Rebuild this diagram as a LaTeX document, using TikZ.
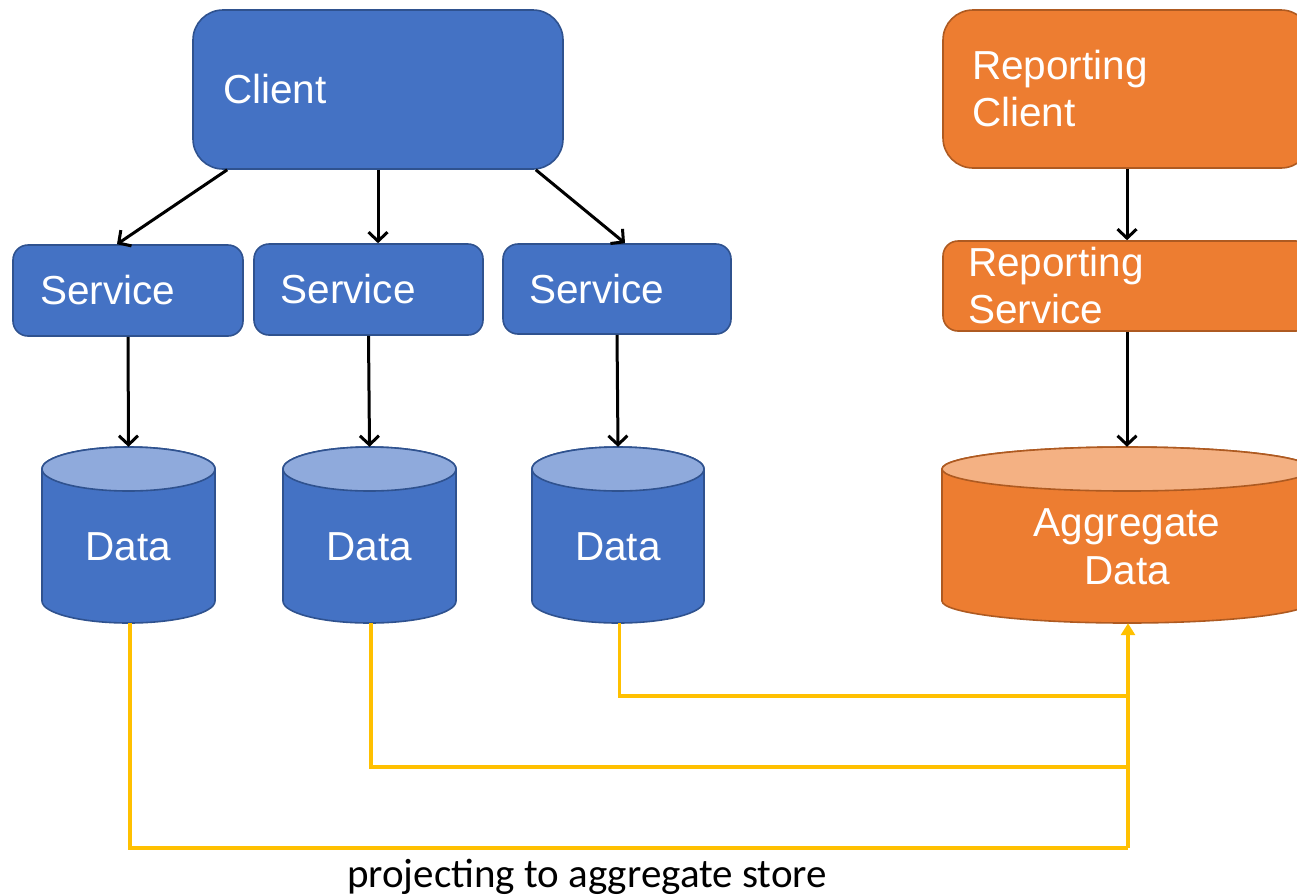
\documentclass[tikz,border=0pt]{standalone}
\usepackage{fontspec}
\setmainfont{Liberation Sans}
\newfontfamily\calib{Carlito}
\usetikzlibrary{arrows.meta,calc}
\definecolor{blueF}{HTML}{4472C4}
\definecolor{blueT}{HTML}{8FAADC}
\definecolor{blueE}{HTML}{2F528F}
\definecolor{orF}{HTML}{ED7D31}
\definecolor{orT}{HTML}{F4B183}
\definecolor{orE}{HTML}{AE5A21}
\definecolor{yel}{HTML}{FFC000}
\begin{document}
\begin{tikzpicture}[x=1pt,y=1pt,
  boxbase/.style={line width=1.6pt, text=white, font=\fontsize{40.5}{47}\selectfont, align=left, inner sep=0pt},
  bluebox/.style={boxbase, draw=blueE, fill=blueF},
  orbox/.style={boxbase, draw=orE, fill=orF},
  bigbox/.style={rounded corners=30pt, minimum height=159, minimum width=370, text width=310},
  svcbox/.style={rounded corners=15pt, minimum height=91, minimum width=230, text width=176},
  frame/.style={inner sep=0pt, minimum width=#1, minimum height=176},
  cyltext/.style={text=white, font=\fontsize{40.5}{48}\selectfont, align=center, inner sep=0pt},
  arr/.style={line width=3pt, -{Straight Barb[length=9pt,width=19pt]}},
  yline/.style={draw=yel, line width=3.4pt},
  yarr/.style={yline, -{Triangle[length=12pt,width=14pt]}}
]
\useasboundingbox (0,0) rectangle (1297,-895);
\clip (0,0) rectangle (1297,-895);

% cylinders
\foreach \cx/\rx/\cb/\ct/\ce in {128.5/86.5/blueF/blueT/blueE, 369.5/86.5/blueF/blueT/blueE, 618/86/blueF/blueT/blueE, 1127/185/orF/orT/orE}{
  \filldraw[fill=\cb, draw=\ce, line width=1.6pt] (\cx-\rx,-469) -- (\cx-\rx,-601)
     arc[start angle=180, end angle=360, x radius=\rx pt, y radius=22pt]
     -- (\cx+\rx,-469)
     arc[start angle=0, end angle=180, x radius=\rx pt, y radius=22pt] -- cycle;
  \filldraw[fill=\ct, draw=\ce, line width=1.6pt] (\cx,-469) ellipse[x radius=\rx pt, y radius=22pt];
}
\node[frame=173] (d1) at (128.5,-535) {};
\node[frame=173] (d2) at (369.5,-535) {};
\node[frame=172] (d3) at (618,-535) {};
\node[frame=370] (agg) at (1127,-535) {};
\node[cyltext] (d1t) at (128.5,-547) {Data};
\node[cyltext] (d2t) at (369.5,-547) {Data};
\node[cyltext] (d3t) at (618,-547) {Data};
\node[cyltext] (aggt) at (1127,-547) {Aggregate\\Data};

% boxes
\node[bluebox, bigbox] (c) at (378,-89.5) {Client};
\node[bluebox, svcbox] (s1) at (128,-290.5) {Service};
\node[bluebox, svcbox, minimum width=229] (s2) at (368.5,-289.5) {Service};
\node[bluebox, svcbox, minimum width=228, minimum height=90] (s3) at (617,-289) {Service};
\node[orbox, bigbox, minimum width=368, minimum height=158, text width=310] (rc) at (1127,-89) {Reporting\\Client};
\node[orbox, svcbox, minimum width=368, minimum height=90, text width=318] (rs) at (1127,-286) {Reporting\\Service};

% black arrows
\draw[arr] ([xshift=35pt]c.south west) -- ([xshift=-11pt]s1.north);
\draw[arr] (c.south) -- ([xshift=9.5pt]s2.north);
\draw[arr] ([xshift=-28pt]c.south east) -- ([xshift=8pt]s3.north);
\draw[arr] (s1.south) -- (d1.north);
\draw[arr] (s2.south) -- (d2.north);
\draw[arr] (s3.south) -- (d3.north);
\draw[arr] (rc.south) -- (rs.north);
\draw[arr] (rs.south) -- (agg.north);

% yellow projection lines
\coordinate (j1) at (1128,-848);
\coordinate (j2) at (1128,-767);
\coordinate (j3) at (1128,-696);
\draw[yline] ([xshift=1.5pt]d1.south) |- (j1);
\draw[yline] ([xshift=1.5pt]d2.south) |- (j2);
\draw[yline] ([xshift=1.5pt]d3.south) |- (j3);
\draw[yarr] (j1) -- ([xshift=1pt]agg.south);

\node[font=\calib\fontsize{41}{49}\selectfont, anchor=base] (lbl) at (587,-887) {projecting to aggregate store};
\end{tikzpicture}
\end{document}
